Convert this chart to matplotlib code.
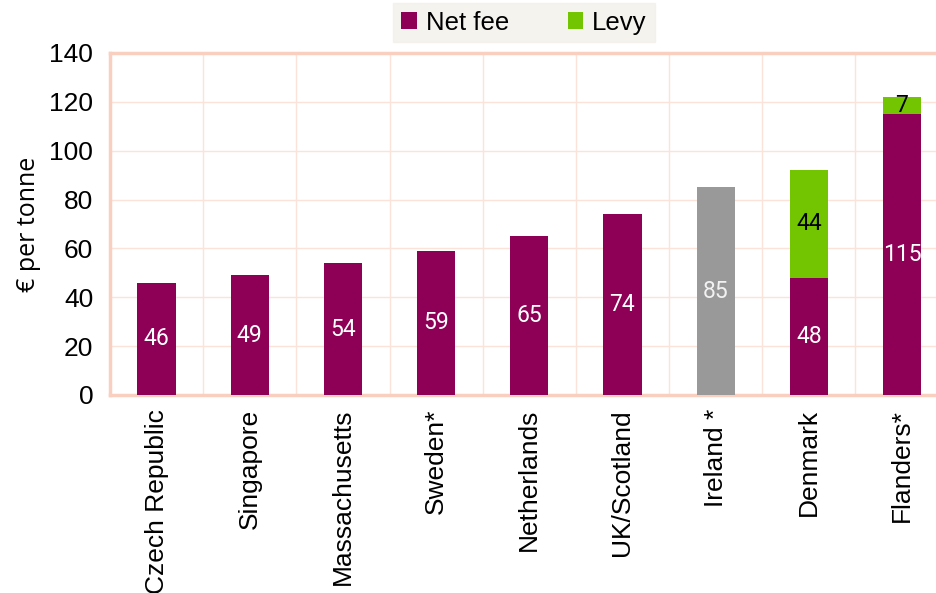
import matplotlib.pyplot as plt
import numpy as np

# data
regions = ['Czech Republic', 'Singapore', 'Massachusetts', 'Sweden*', 'Netherlands',
           'UK/Scotland', 'Ireland *', 'Denmark', 'Flanders*']
net_fee = [46, 49, 54, 59, 65, 74, 0, 48, 115]
levy = [0, 0, 0, 0, 0, 0, 0, 44, 7]
total_only = [0, 0, 0, 0, 0, 0, 85, 0, 0]   # Ireland, no split

c_net = '#8E0056'
c_levy = '#72C500'
c_grey = '#999999'
c_grid = '#FCE3DA'
c_spine = '#F9CFC0'

plt.rcParams['font.family'] = ['Liberation Sans', 'DejaVu Sans']

fig = plt.figure(figsize=(9.36, 5.93), dpi=100)
ax = fig.add_axes([110/936, 1 - 395/593, 1 - 110/936, (395 - 53)/593])

x = np.arange(len(regions))
w = 0.41
b1 = ax.bar(x, net_fee, w, color=c_net, label='Net fee', zorder=3)
b2 = ax.bar(x, levy, w, bottom=net_fee, color=c_levy, label='Levy', zorder=3)
ax.bar(x, total_only, w, color=c_grey, zorder=3)

# bar labels
for i in range(len(regions)):
    if net_fee[i] > 0:
        ax.text(x[i], net_fee[i] / 2, str(net_fee[i]), ha='center', va='center',
                color='white', fontsize=16.5, family='Roboto', zorder=4)
    if levy[i] > 0:
        ax.text(x[i], net_fee[i] + levy[i] / 2, str(levy[i]), ha='center', va='center',
                color='black', fontsize=16.5, family='Roboto', zorder=4)
    if total_only[i] > 0:
        ax.text(x[i], total_only[i] / 2, str(total_only[i]), ha='center', va='center',
                color='#F2F2F2', fontsize=16.5, family='Roboto', zorder=4)

ax.set_ylim(0, 140)
ax.set_yticks(range(0, 141, 20))
ax.set_xlim(-0.5, 8.365)
ax.set_xticks(x)
ax.set_xticklabels(regions, rotation=90, fontsize=19)
ax.tick_params(axis='y', labelsize=19, length=0, pad=12)
ax.tick_params(axis='x', length=0, pad=10)
ax.set_ylabel('€ per tonne', fontsize=18, family='Open Sans', labelpad=6)

# grid
ax.set_axisbelow(True)
ax.yaxis.grid(True, color=c_grid, lw=1)
for b in np.arange(0.5, 8.5, 1):
    ax.axvline(b, color=c_grid, lw=1, zorder=0)

for s in ['left', 'bottom', 'top']:
    ax.spines[s].set_color(c_spine)
    ax.spines[s].set_linewidth(2.5)
ax.spines['right'].set_visible(False)

leg = fig.legend(handles=[b1, b2], loc='upper center', bbox_to_anchor=(524/936, 1 - 3/593),
                 ncol=2, frameon=True, fancybox=False, fontsize=18.5, handlelength=0.6,
                 handleheight=0.6, handletextpad=0.35, columnspacing=2.3,
                 borderpad=0.3, borderaxespad=0)
leg.get_frame().set_facecolor('#F3F0EA')
leg.get_frame().set_edgecolor('#F3F0EA')

plt.savefig('out.png', dpi=100)
